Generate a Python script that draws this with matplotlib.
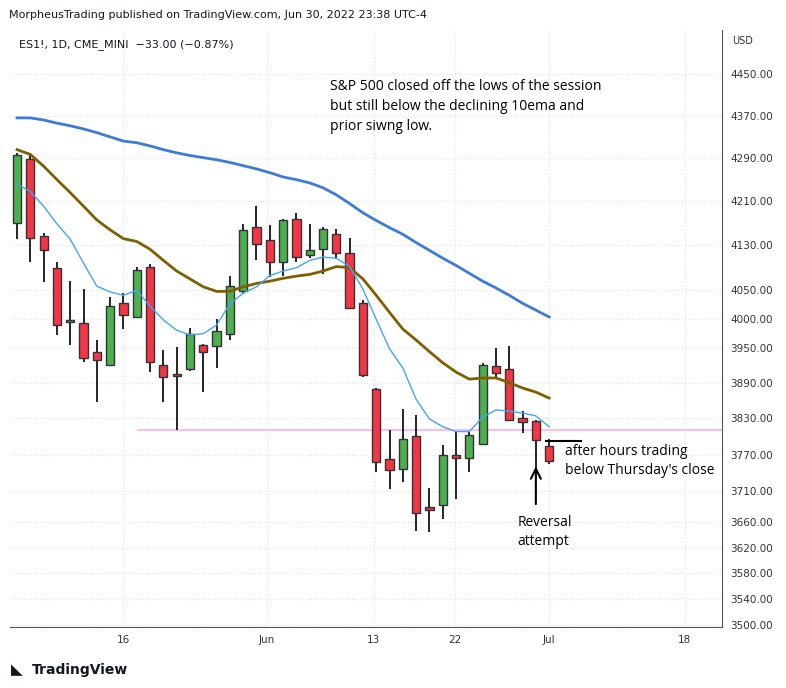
import numpy as np
import matplotlib
matplotlib.use("Agg")
import matplotlib.pyplot as plt
from matplotlib.ticker import FixedLocator, NullLocator

# daily OHLC, ES1! May 4 - Jul 1 2022
opens = [4171, 4289, 4146, 4089, 3994, 3992, 3943, 3920, 4027, 4003,
         4092, 3920, 3902, 3913, 3954, 3953, 3974, 4048, 4164, 4139,
         4100, 4178, 4112, 4123, 4150, 4116, 4027, 3879, 3763, 3747,
         3801, 3684, 3688, 3769, 3764, 3788, 3918, 3913, 3831, 3826, 3784]
highs = [4300, 4300, 4153, 4100, 4066, 4052, 3963, 4038, 4045, 4092,
         4096, 3946, 3951, 3984, 3956, 3999, 4075, 4169, 4201, 4166,
         4178, 4189, 4169, 4164, 4160, 4144, 4033, 3881, 3810, 3845,
         3835, 3716, 3786, 3808, 3808, 3924, 3949, 3953, 3842, 3828, 3796]
lows = [4142, 4100, 4064, 3972, 3954, 3925, 3858, 3918, 3982, 4001,
        3908, 3858, 3810, 3910, 3874, 3915, 3963, 4043, 4103, 4073,
        4075, 4100, 4107, 4078, 4105, 4017, 3900, 3741, 3713, 3725,
        3646, 3645, 3665, 3697, 3741, 3786, 3900, 3826, 3806, 3744, 3755]
closes = [4295, 4144, 4121, 3989, 3998, 3932, 3929, 4022, 4006, 4085,
          3925, 3900, 3901, 3974, 3943, 3979, 4057, 4157, 4132, 4100,
          4175, 4109, 4121, 4159, 4116, 4019, 3903, 3757, 3744, 3796,
          3675, 3680, 3769, 3764, 3803, 3920, 3907, 3828, 3824, 3794, 3760]

ma_slow = [4366, 4366, 4362, 4356, 4351, 4345, 4338, 4330, 4322, 4319,
           4313, 4306, 4300, 4295, 4291, 4287, 4282, 4276, 4270, 4263,
           4255, 4250, 4244, 4235, 4222, 4206, 4189, 4175, 4162, 4150,
           4135, 4121, 4107, 4094, 4080, 4066, 4054, 4041, 4027, 4015, 4003]
ma_mid = [4306, 4297, 4275, 4250, 4226, 4201, 4176, 4158, 4142, 4137,
          4123, 4103, 4084, 4070, 4056, 4048, 4048, 4056, 4062, 4066,
          4071, 4075, 4078, 4084, 4092, 4090, 4070, 4041, 4011, 3982,
          3963, 3943, 3924, 3908, 3896, 3898, 3898, 3890, 3881, 3874, 3864]
ema10 = [4242, 4228, 4201, 4169, 4141, 4098, 4057, 4047, 4041, 4050,
         4022, 3998, 3980, 3972, 3974, 3989, 4026, 4045, 4056, 4076,
         4084, 4090, 4103, 4109, 4107, 4092, 4052, 3999, 3948, 3915,
         3862, 3829, 3816, 3808, 3808, 3832, 3844, 3842, 3839, 3834, 3816]

swing_low = 3811
ah_close = 3793
price_ticks = [3500, 3540, 3580, 3620, 3660, 3710, 3770, 3830, 3890, 3950,
               4000, 4050, 4130, 4210, 4290, 4370, 4450]
date_pos = [8, 18.8, 26.8, 32.9, 40, 50.2]
date_labels = ["16", "Jun", "13", "22", "Jul", "18"]

plt.rcParams["font.family"] = "DejaVu Sans"
fig = plt.figure(figsize=(7.86, 6.88), dpi=100)
ax = fig.add_axes([0.0127, 0.0887, 0.906, 0.8673])
ax.set_yscale("log")
ax.set_xlim(-0.53, 53.0)
ax.set_ylim(3497, 4536)

x = np.arange(len(opens))
for i in x:
    up = closes[i] >= opens[i]
    col = "#4CAF50" if up else "#F23645"
    ax.vlines(i, lows[i], highs[i], color="black", lw=1.2, zorder=2)
    lo, hi = min(opens[i], closes[i]), max(opens[i], closes[i])
    if hi - lo < 3:
        hi = lo + 3
    ax.bar(i, hi - lo, bottom=lo, width=0.62, color=col,
           edgecolor="#333333", lw=1.0, zorder=3)

ax.plot(x, ma_slow, color="#3D7BD9", lw=2, zorder=4)
ax.plot(x, ma_mid, color="#7F6000", lw=2, zorder=4)
ax.plot(x, ema10, color="#42A5F5", lw=1, zorder=4)
ax.hlines(swing_low, 9, 53, color="#FFB3F0", lw=1.3, zorder=1)
ax.hlines(ah_close, 39.7, 42.5, color="black", lw=1.5, zorder=5)

ax.annotate("", xy=(39, 3755), xytext=(39, 3685),
            arrowprops=dict(arrowstyle="->", color="black", lw=1.5,
                            mutation_scale=18))
ax.text(37.6, 3672, "Reversal\nattempt", fontsize=10,
        fontfamily="Open Sans", va="top", ha="left", linespacing=1.35)
ax.text(41.2, 3787, "after hours trading\nbelow Thursday's close",
        fontsize=10, fontfamily="Open Sans", va="top", ha="left",
        linespacing=1.35)
ax.text(23.5, 4440, "S&P 500 closed off the lows of the session\n"
        "but still below the declining 10ema and\nprior siwng low.",
        fontsize=10, fontfamily="Open Sans", va="top", ha="left",
        linespacing=1.45)
ax.text(0.012, 0.985, "ES1!, 1D, CME_MINI  \u221233.00 (\u22120.87%)",
        transform=ax.transAxes, fontsize=8, color="#131722",
        va="top", ha="left")

ax.yaxis.tick_right()
ax.yaxis.set_major_locator(FixedLocator(price_ticks))
ax.yaxis.set_minor_locator(NullLocator())
ax.set_yticklabels([f"{v:.2f}" for v in price_ticks], fontsize=7.5,
                   color="#333333")
ax.set_xticks(date_pos)
ax.set_xticklabels(date_labels, fontsize=7.5, color="#333333")
ax.tick_params(length=0, pad=6)
ax.grid(True, color="#e6e6e6", ls=":", lw=0.8)
ax.set_axisbelow(True)
for s in ["top", "left"]:
    ax.spines[s].set_visible(False)
ax.spines["right"].set_color("#555555")
ax.spines["bottom"].set_color("#555555")

fig.text(0.012, 0.985, "MorpheusTrading published on TradingView.com, Jun 30, 2022 23:38 UTC-4",
         fontsize=8, color="#131722", va="top", ha="left")
fig.text(0.932, 0.948, "USD", fontsize=7, color="#333333", va="top")
fig.text(0.04, 0.026, "TradingView", fontsize=10, color="#131722",
         fontweight="bold", va="center")
fig.text(0.014, 0.026, "\u25E3", fontsize=11, color="#131722", va="center")

fig.savefig("out.png", dpi=100)
